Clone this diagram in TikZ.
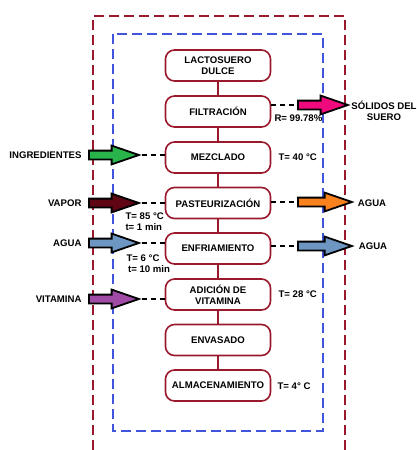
\documentclass[tikz,border=0pt]{standalone}
\usepackage{fontspec}
\setmainfont{Liberation Sans}
\usetikzlibrary{shapes.arrows}
\definecolor{rojo}{RGB}{155,25,45}
\definecolor{azul}{RGB}{65,85,220}
\definecolor{verde}{RGB}{40,180,75}
\definecolor{vino}{RGB}{95,5,20}
\definecolor{celeste}{RGB}{110,150,195}
\definecolor{morado}{RGB}{160,75,165}
\definecolor{rosa}{RGB}{240,10,125}
\definecolor{naranja}{RGB}{250,130,30}
\begin{document}
\begin{tikzpicture}[x=1pt,y=-1pt,
  font=\fontsize{9.6}{11}\selectfont\bfseries,
  paso/.style={draw=rojo, line width=1.6pt, rounded corners=9pt, minimum width=105pt, minimum height=31pt, align=center},
  flecha/.style={single arrow, draw=black, line width=1.8pt, fill=#1, inner xsep=0pt, inner ysep=3.5pt,
    single arrow head extend=5pt, single arrow tip angle=38, single arrow head indent=0pt, minimum height=50pt, anchor=tail},
  conec/.style={line width=1.5pt, dash pattern=on 5pt off 4pt},
  marco/.style={line width=1.5pt, dash pattern=on 10pt off 5pt}]
\useasboundingbox (0,0) rectangle (416,450);
% limites del sistema
\draw[marco, draw=rojo] (93,450) -- (93,16) -- (345,16) -- (345,450);
\draw[marco, draw=azul] (113,34) rectangle (323,431);

% etapas del proceso
\node[paso] (a) at (218,65.5) {LACTOSUERO\\DULCE};
\node[paso] (b) at (218,111.5) {FILTRACIÓN};
\node[paso] (c) at (218,157.5) {MEZCLADO};
\node[paso] (d) at (218,203) {PASTEURIZACIÓN};
\node[paso] (e) at (218,248.5) {ENFRIAMIENTO};
\node[paso] (f) at (218,294.5) {ADICIÓN DE\\VITAMINA};
\node[paso] (g) at (218,340) {ENVASADO};
\node[paso] (h) at (218,385.5) {ALMACENAMIENTO};
\foreach \i/\j in {a/b,b/c,c/d,d/e,e/f,f/g,g/h}
  \draw[rojo, line width=1.5pt] (\i) -- (\j);

% entradas
\node[flecha=verde] (ingr) at (88,155) {};
\node[flecha=vino] (vap) at (88,203) {};
\node[flecha=celeste] (agua1) at (88,243) {};
\node[flecha=morado] (vit) at (88,299) {};
\node[anchor=east] (ingrt) at (85,155) {INGREDIENTES};
\node[anchor=east] (vapt) at (85,203) {VAPOR};
\node[anchor=east] (agua1t) at (85,243) {AGUA};
\node[anchor=east] (vitt) at (85,299) {VITAMINA};
\draw[conec] (ingr.tip) -- (ingr.tip -| c.west);
\draw[conec] (vap.tip) -- (vap.tip -| d.west);
\draw[conec] (agua1.tip) -- (agua1.tip -| e.west);
\draw[conec] (vit.tip) -- (vit.tip -| f.west);

% salidas
\node[flecha=rosa] (sol) at (297,105) {};
\node[flecha=naranja, minimum height=54pt] (agua2) at (297,202) {};
\node[flecha=celeste, minimum height=54pt] (agua3) at (297,246) {};
\node[align=center] (solt) at (384,110.5) {SÓLIDOS DEL\\SUERO};
\node (agua2t) at (372,203) {AGUA};
\node (agua3t) at (373,246) {AGUA};
\draw[conec] (sol.tail -| b.east) -- (sol.tail);
\draw[conec] (agua2.tail -| d.east) -- (agua2.tail);
\draw[conec] (agua3.tail -| e.east) -- (agua3.tail);

% condiciones
\node[anchor=west] (r) at (271,118) {R= 99.78\%};
\node[anchor=west] (t1) at (275,157) {T= 40 °C};
\node[anchor=west, align=left] (t2) at (122,222) {T= 85 °C\\t= 1 min};
\node[anchor=west, align=left] (t3) at (123,264) {T= 6 °C\\\,t= 10 min};
\node[anchor=west] (t4) at (275,294.5) {T= 28 °C};
\node[anchor=west] (t5) at (274,386) {T= 4° C};
\end{tikzpicture}
\end{document}
